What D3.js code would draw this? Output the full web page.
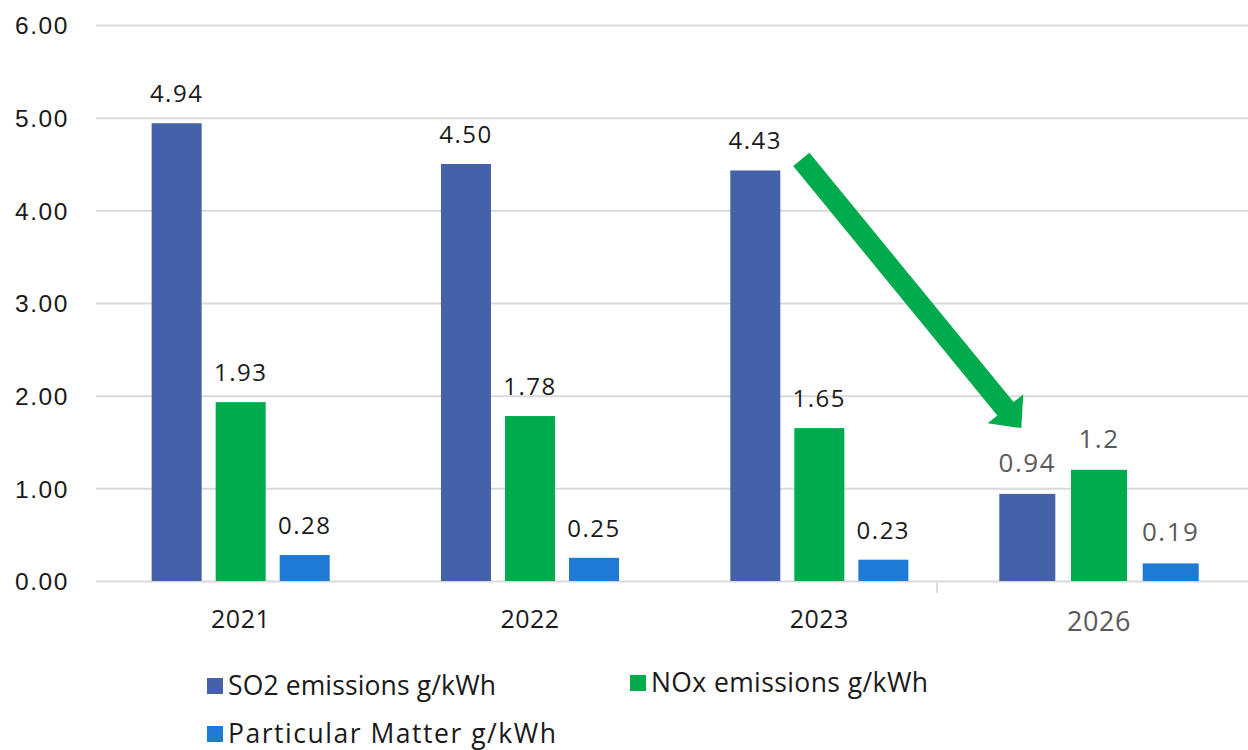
<!DOCTYPE html>
<html>
<head>
<meta charset="utf-8">
<script src="https://cdn.jsdelivr.net/npm/d3@7"></script>
<style>
  html, body { margin: 0; padding: 0; background: #ffffff; }
  svg { display: block; font-family: "Open Sans", "Noto Sans", sans-serif; }
</style>
</head>
<body>
<svg id="chart" width="1248" height="750"></svg>
<script>
// Reported years and the projected year
const years = ["2021", "2022", "2023"];
const projYears = ["2026"];

// Emission intensities, g/kWh
const so2 = [4.94, 4.50, 4.43];
const nox = [1.93, 1.78, 1.65];
const pm = [0.28, 0.25, 0.23];

const so2Proj = [0.94];
const noxProj = [1.2];
const pmProj = [0.19];

const seriesKeys = ["so2", "nox", "pm"];
const seriesNames = ["SO2 emissions g/kWh", "NOx emissions g/kWh", "Particular Matter g/kWh"];
const seriesColors = ["#4561a8", "#00ab4e", "#1f7ad5"];

const yTicks = [0, 1, 2, 3, 4, 5, 6];

const W = 1248, H = 750;
const svg = d3.select("#chart");

const y = d3.scaleLinear().domain([0, 6]).range([581, 25]);
const x = d3.scaleBand().domain(years).range([96, 964]);
// the projection is shown as its own slightly enlarged panel
const xp = d3.scaleBand().domain(projYears).range([937, 1261]);

function innerScale(bw) {
  const half = bw * 0.3077;
  return d3.scaleBand().domain(seriesKeys).range([bw / 2 - half, bw / 2 + half]).paddingInner(0.219);
}

// gridlines and value axis
const yAxis = d3.axisLeft(y)
  .tickValues(yTicks)
  .tickSize(-(W - 96))
  .tickPadding(27)
  .tickFormat(d3.format(".2f"));

const gy = svg.append("g").attr("transform", "translate(96,0)").call(yAxis);
gy.select(".domain").remove();
gy.selectAll(".tick line").attr("stroke", "#d9d9d9").attr("stroke-width", 2);
gy.selectAll(".tick text")
  .attr("fill", "#1a1a1a")
  .style("font-size", "24.5px")
  .style("letter-spacing", "1.6px")
  .attr("dy", "0.36em");

// small category tick at the start of the projection panel
svg.append("line")
  .attr("x1", xp(projYears[0])).attr("x2", xp(projYears[0]))
  .attr("y1", y(0) + 2).attr("y2", y(0) + 12)
  .attr("stroke", "#cfcfcf").attr("stroke-width", 1.5);

function drawGroups(xScale, cats, data, opts) {
  const inner = innerScale(xScale.bandwidth());
  const rows = cats.map((c, i) => ({
    cat: c,
    values: seriesKeys.map((k, j) => ({ key: k, color: seriesColors[j], v: data[k][i] }))
  }));
  const g = svg.append("g");
  const grp = g.selectAll("g.grp").data(rows).join("g")
    .attr("class", "grp")
    .attr("transform", d => `translate(${xScale(d.cat)},0)`);

  grp.selectAll("rect").data(d => d.values).join("rect")
    .attr("x", d => inner(d.key))
    .attr("width", inner.bandwidth())
    .attr("y", d => y(d.v))
    .attr("height", d => y(0) - y(d.v))
    .attr("fill", d => d.color);

  grp.selectAll("text.val").data(d => d.values).join("text")
    .attr("class", "val")
    .attr("x", d => inner(d.key) + inner.bandwidth() / 2)
    .attr("y", d => y(d.v) - opts.labelGap)
    .attr("text-anchor", "middle")
    .attr("fill", opts.color)
    .style("font-size", opts.valueSize + "px")
    .style("letter-spacing", "1.5px")
    .text(d => opts.fmt(d.v));

  grp.append("text")
    .attr("x", xScale.bandwidth() / 2)
    .attr("y", opts.yearBaseline)
    .attr("text-anchor", "middle")
    .attr("fill", opts.color)
    .style("font-size", opts.yearSize + "px")
    .style("letter-spacing", "0.5px")
    .text(d => d.cat);
}

drawGroups(x, years, { so2: so2, nox: nox, pm: pm }, {
  fmt: d3.format(".2f"), color: "#1a1a1a", valueSize: 24, yearSize: 25,
  labelGap: 21, yearBaseline: 628
});

drawGroups(xp, projYears, { so2: so2Proj, nox: noxProj, pm: pmProj }, {
  fmt: d => String(d), color: "#5a5a5a", valueSize: 26, yearSize: 27,
  labelGap: 22, yearBaseline: 631
});

// downward trend arrow from the 2023 SO2 bar to the projection
(function () {
  const innerMain = innerScale(x.bandwidth());
  const innerProj = innerScale(xp.bandwidth());
  const sx = x("2023") + innerMain("so2") + innerMain.bandwidth() + 21;
  const sy = y(4.55);
  const tx = xp("2026") + innerProj("so2") + innerProj.bandwidth() / 2 - 6;
  const ty = y(1.65);
  const dx = tx - sx, dy = ty - sy;
  const len = Math.hypot(dx, dy);
  const ux = dx / len, uy = dy / len;
  const px = -uy, py = ux;
  const shaftHalf = 10.5, headHalf = 23, headLen = 25;
  const bx = tx - ux * headLen, by = ty - uy * headLen;
  const pts = [
    [sx + px * shaftHalf, sy + py * shaftHalf],
    [bx + px * shaftHalf, by + py * shaftHalf],
    [bx + px * headHalf, by + py * headHalf],
    [tx, ty],
    [bx - px * headHalf, by - py * headHalf],
    [bx - px * shaftHalf, by - py * shaftHalf],
    [sx - px * shaftHalf, sy - py * shaftHalf]
  ];
  svg.append("path")
    .attr("d", d3.line()(pts) + "Z")
    .attr("fill", "#00ab4e");
})();

// legend
const legendItems = [
  { name: seriesNames[0], color: seriesColors[0], x: 207, y: 695, w: 268 },
  { name: seriesNames[1], color: seriesColors[1], x: 630, y: 692, w: 277 },
  { name: seriesNames[2], color: seriesColors[2], x: 207, y: 743, w: 328 }
];
const lg = svg.append("g").selectAll("g").data(legendItems).join("g")
  .attr("transform", d => `translate(${d.x},${d.y})`);
lg.append("rect").attr("x", 0).attr("y", -17).attr("width", 16).attr("height", 16)
  .attr("fill", d => d.color);
lg.append("text").attr("x", 21).attr("y", 0)
  .attr("fill", "#1a1a1a")
  .attr("textLength", d => d.w)
  .attr("lengthAdjust", "spacing")
  .style("font-size", "26.5px")
  .text(d => d.name);
</script>
</body>
</html>
